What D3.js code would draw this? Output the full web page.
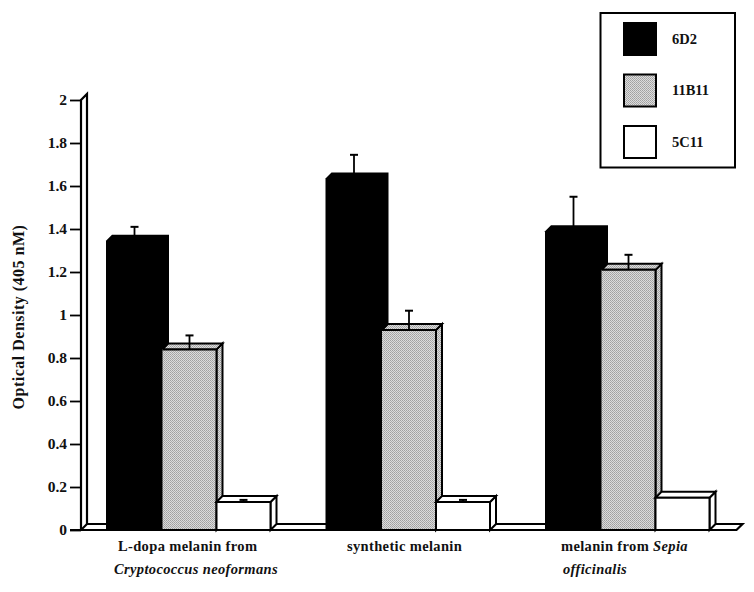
<!DOCTYPE html>
<html><head><meta charset="utf-8">
<script src="https://cdnjs.cloudflare.com/ajax/libs/d3/7.8.5/d3.min.js"></script>
<style>html,body{margin:0;background:#fff}svg{display:block}text{font-family:"Liberation Serif",serif;font-weight:bold;fill:#111}</style>
</head><body><div id="c"></div>
<script>
const categories=["L-dopa melanin from Cryptococcus neoformans","synthetic melanin","melanin from Sepia officinalis"];
const series=["6D2","11B11","5C11"];
const v6D2=[1.345,1.635,1.39];
const v11B11=[0.84,0.93,1.21];
const v5C11=[0.13,0.13,0.15];
const err6D2=[1.41,1.745,1.55];
const err11B11=[0.905,1.02,1.28];
const err5C11=[0.14,0.14,null];
const tickVals=[0,0.2,0.4,0.6,0.8,1,1.2,1.4,1.6,1.8,2];
const vals=[v6D2,v11B11,v5C11], errs=[err6D2,err11B11,err5C11];
const fills=["#000","url(#st)","#fff"];

const W=754,H=592,D=6;
const svg=d3.select("#c").append("svg").attr("width",W).attr("height",H);
const pat=svg.append("defs").append("pattern").attr("id","st").attr("width",2).attr("height",2).attr("patternUnits","userSpaceOnUse");
pat.append("rect").attr("width",2).attr("height",2).attr("fill","#dcdcdc");
pat.append("rect").attr("width",1).attr("height",1).attr("fill","#a0a0a0");
pat.append("rect").attr("x",1).attr("y",1).attr("width",1).attr("height",1).attr("fill","#acacac");

const y=d3.scaleLinear().domain([0,2]).range([530,100]);
const x0=d3.scaleBand().domain(categories).range([106,764.5]);
const x1=d3.scaleOrdinal(series,[0,56.5,110.5]);
const bw=d3.scaleOrdinal(series,[57,54,54]);
const poly=p=>p.map(q=>q.join(",")).join(" ");

// wall and floor
const wl=81, fr=736.5;
svg.append("polygon").attr("points",poly([[wl,y(0)],[wl,y(2)],[wl+D,y(2)-D],[wl+D,y(0)-D],[fr+6,y(0)-D],[fr,y(0)]]))
  .attr("fill","#fff").attr("stroke","#000").attr("stroke-width",2.2);
svg.append("line").attr("x1",wl).attr("y1",y(0)).attr("x2",wl+D).attr("y2",y(0)-D).attr("stroke","#000").attr("stroke-width",2.2);

// axis
const ax=svg.append("g").attr("transform",`translate(${wl},0)`)
  .call(d3.axisLeft(y).tickValues(tickVals).tickSize(11).tickPadding(3).tickFormat(d3.format("~g")));
ax.select(".domain").remove();
ax.selectAll("line").attr("stroke","#000").attr("stroke-width",1.8);
ax.selectAll("text").attr("font-size",15.5).style("font-family",'"Liberation Serif",serif').style("font-weight","bold");

// bars
series.forEach((s,si)=>{
  categories.forEach((c,ci)=>{
    const g=svg.append("g");
    const l=x0(c)+x1(s), w=bw(s), r=l+w, t=y(vals[si][ci]), b=y(0);
    if(si===0){
      g.append("polygon").attr("points",poly([[l,b],[l,t],[l+D,t-D],[r+D,t-D],[r+D,b-D],[r,b]])).attr("fill","#000");
    }else{
      g.append("polygon").attr("points",poly([[r,t],[r+D,t-D],[r+D,b-D],[r,b]])).attr("fill",fills[si]).attr("stroke","#000").attr("stroke-width",2);
      g.append("polygon").attr("points",poly([[l,t],[l+D,t-D],[r+D,t-D],[r,t]])).attr("fill",fills[si]).attr("stroke","#000").attr("stroke-width",2);
      g.append("rect").attr("x",l).attr("y",t).attr("width",w).attr("height",b-t).attr("fill",fills[si]);
      g.append("path").attr("d",(si===2?`M${l},${b}L${l},${t}`:`M${l},${t}`)+`L${r},${t}L${r},${b}`).attr("fill","none").attr("stroke","#000").attr("stroke-width",2);
    }
    const e=errs[si][ci];
    if(e!=null){
      const cx=l+w/2;
      g.append("line").attr("x1",cx).attr("x2",cx).attr("y1",t).attr("y2",y(e)).attr("stroke","#000").attr("stroke-width",1.8);
      g.append("line").attr("x1",cx-4).attr("x2",cx+4).attr("y1",y(e)).attr("y2",y(e)).attr("stroke","#000").attr("stroke-width",2);
    }
  });
});
// floor front line over bars
svg.append("line").attr("x1",70).attr("x2",fr).attr("y1",y(0)).attr("y2",y(0)).attr("stroke","#000").attr("stroke-width",2);

// axis title
svg.append("text").attr("transform","translate(24,317) rotate(-90)").attr("text-anchor","middle").attr("font-size",16).attr("letter-spacing",0.5).text("Optical Density (405 nM)");

// category labels
const catLines=[[["L-dopa melanin from",0,118,551],["Cryptococcus neoformans",1,114,574]],
 [["synthetic melanin",0,347,551]],
 [["melanin from ",0,561,551,"Sepia"],["officinalis",1,563,574]]];
catLines.forEach(ls=>ls.forEach(l=>{
  const t=svg.append("text").attr("x",l[2]).attr("y",l[3]).attr("font-size",14.5).attr("letter-spacing",0.35);
  t.append("tspan").attr("font-style",l[1]?"italic":"normal").text(l[0]);
  if(l[4]) t.append("tspan").attr("font-style","italic").text(l[4]);
}));

// legend
svg.append("rect").attr("x",600.5).attr("y",13).attr("width",134.5).attr("height",154.5).attr("fill","#fff").attr("stroke","#000").attr("stroke-width",2);
const ly=d3.scalePoint().domain(series).range([23,126]);
series.forEach((s,i)=>{
  svg.append("rect").attr("x",624).attr("y",ly(s)).attr("width",32).attr("height",32).attr("fill",fills[i]).attr("stroke","#000").attr("stroke-width",2);
  svg.append("text").attr("x",672).attr("y",ly(s)+20.5).attr("font-size",14.5).text(s);
});
</script></body></html>
